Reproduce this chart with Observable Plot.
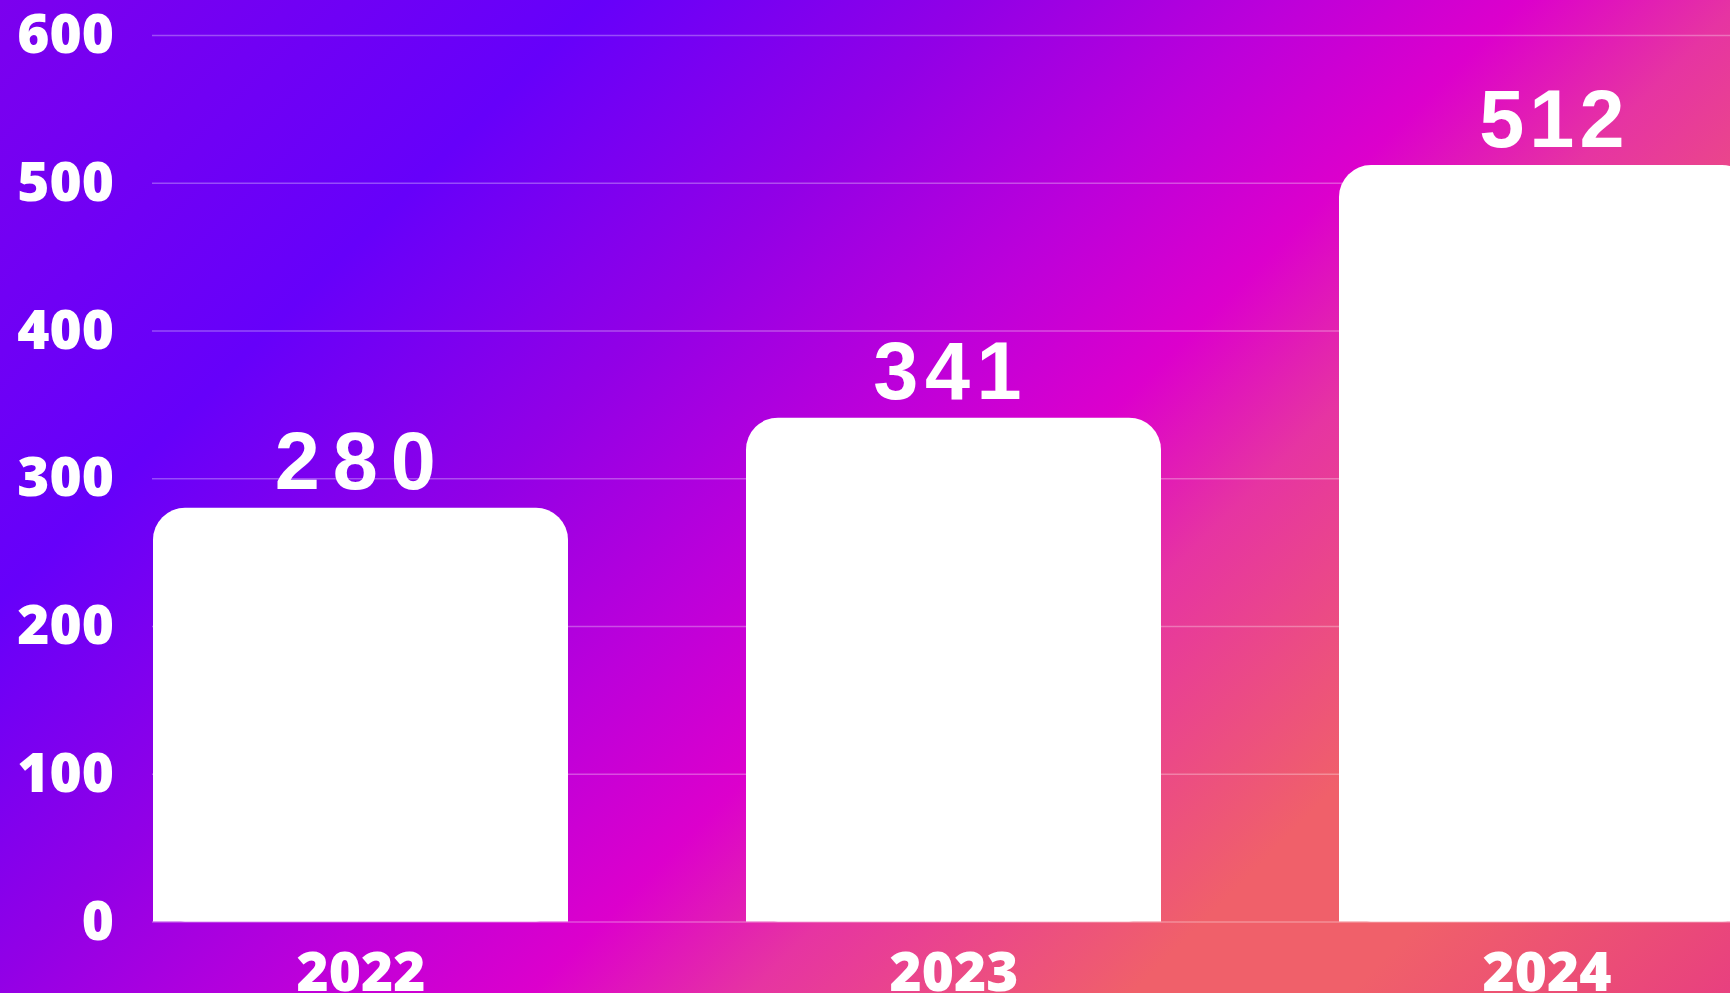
<!DOCTYPE html>
<html>
<head>
<meta charset="utf-8">
<script src="https://cdn.jsdelivr.net/npm/d3@7"></script>
<script src="https://cdn.jsdelivr.net/npm/@observablehq/plot@0.6"></script>
<style>
  html, body { margin: 0; padding: 0; width: 1730px; height: 993px; overflow: hidden; }
  body {
    background: linear-gradient(135deg,
      #7c00ee 0%, #6600fa 22%, #9200e6 36%, #bc00da 47%, #dc00cc 56%,
      #e634a2 64%, #f0606a 78%, #f0606a 86%, #e8407f 100%);
  }
  #chart svg { display: block; }
</style>
</head>
<body>
<div id="chart"></div>
<script>
// ---- data ----
const years = ["2022", "2023", "2024"];
const values = [280, 341, 512];
const yTicks = [0, 100, 200, 300, 400, 500, 600];

const table = years.map((year, i) => ({year, value: values[i]}));

// per-label typographic tweaks (letter spacing, horizontal nudge)
const labelLetterSpacing = [13, 6.5, 5];
const labelDx = [0.8, -3.3, 7.4];

const labelMarks = years.map((yr, i) =>
  Plot.text(table.filter(d => d.year === yr), {
    x: "year",
    y: "value",
    text: d => String(d.value),
    lineAnchor: "bottom",
    dy: -19,
    dx: labelDx[i],
    fill: "white",
    fontSize: 81,
    fontWeight: "bold",
    fontFamily: "'Liberation Sans', Arial, sans-serif"
  })
);

const chart = Plot.plot({
  width: 1730,
  height: 993,
  marginLeft: 152,
  marginRight: 0,
  marginTop: 35,
  marginBottom: 71.5,
  style: {background: "transparent", color: "white", maxWidth: "none", overflow: "hidden"},
  x: {type: "band", domain: years, range: [152.3, 1754.3], paddingInner: 0.3, paddingOuter: 0},
  y: {domain: [0, 600]},
  marks: [
    Plot.gridY(yTicks, {stroke: "white", strokeOpacity: 0.3, strokeWidth: 1.5}),
    Plot.barY(table, {x: "year", y: "value", fill: "white", rx: 32}),
    Plot.barY(table, {x: "year", y1: 0, y2: d => d.value / 2, fill: "white"}),
    Plot.axisY(yTicks, {
      tickSize: 0, tickPadding: 38.5, label: null,
      fontSize: 55, fontWeight: 800, fontFamily: "'Open Sans', sans-serif", fill: "white"
    }),
    Plot.axisX({
      tickSize: 0, tickPadding: 30, label: null,
      fontSize: 55, fontWeight: 800, fontFamily: "'Open Sans', sans-serif", fill: "white"
    }),
    ...labelMarks
  ]
});

document.getElementById("chart").appendChild(chart);

// apply letter spacing to the three value-label groups (in mark order)
d3.select(chart).selectAll('g[aria-label="text"]').each(function (_, i) {
  d3.select(this).selectAll("text").attr("letter-spacing", labelLetterSpacing[i]);
});
</script>
</body>
</html>
